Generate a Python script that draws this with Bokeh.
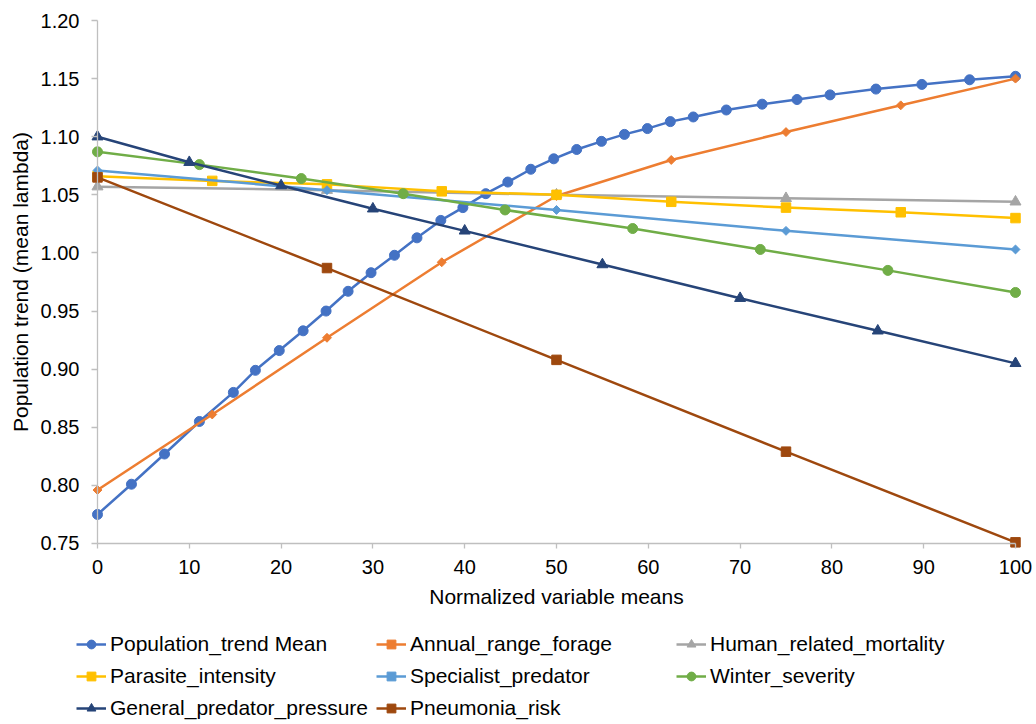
from bokeh.plotting import figure
from bokeh.models import Range1d, FixedTicker, PrintfTickFormatter, Legend, LegendItem
from bokeh.embed import file_html
from bokeh.resources import INLINE
import math

# ---------------- data ----------------
pop_x = [0, 3.7, 7.3, 11.1, 14.8, 17.2, 19.8, 22.4, 24.9, 27.3, 29.8, 32.35, 34.8, 37.4, 39.8,
         42.3, 44.7, 47.2, 49.7, 52.2, 54.9, 57.4, 59.9, 62.4, 64.9, 68.5, 72.4, 76.2, 79.8,
         84.8, 89.8, 95.0, 100]
pop_y = [0.775, 0.801, 0.827, 0.855, 0.880, 0.899, 0.916, 0.933, 0.950, 0.967, 0.983, 0.998,
         1.013, 1.028, 1.039, 1.051, 1.061, 1.072, 1.081, 1.089, 1.096, 1.102, 1.107, 1.113,
         1.117, 1.123, 1.128, 1.132, 1.136, 1.141, 1.145, 1.149, 1.152]

forage_x = [0, 12.5, 25, 37.5, 50, 62.5, 75, 87.5, 100]
forage_y = [0.796, 0.861, 0.927, 0.992, 1.049, 1.080, 1.104, 1.127, 1.150]

human_x = [0, 25, 50, 75, 100]
human_y = [1.057, 1.054, 1.050, 1.047, 1.044]

parasite_x = [0, 12.5, 25, 37.5, 50, 62.5, 75, 87.5, 100]
parasite_y = [1.066, 1.062, 1.059, 1.053, 1.050, 1.044, 1.039, 1.035, 1.030]

special_x = [0, 25, 50, 75, 100]
special_y = [1.071, 1.054, 1.037, 1.019, 1.003]

winter_x = [0, 11.1, 22.2, 33.3, 44.4, 58.3, 72.2, 86.1, 100]
winter_y = [1.087, 1.076, 1.064, 1.051, 1.037, 1.021, 1.003, 0.985, 0.966]

general_x = [0, 10, 20, 30, 40, 55, 70, 85, 100]
general_y = [1.100, 1.078, 1.058, 1.038, 1.019, 0.990, 0.961, 0.933, 0.905]

pneu_x = [0, 25, 50, 75, 100]
pneu_y = [1.065, 0.987, 0.908, 0.829, 0.751]

x_ticks = [0, 10, 20, 30, 40, 50, 60, 70, 80, 90, 100]
y_ticks = [0.75, 0.80, 0.85, 0.90, 0.95, 1.00, 1.05, 1.10, 1.15, 1.20]

series = [
    ("Population_trend Mean", pop_x, pop_y, "#4472C4", "circle", 10, 0),
    ("Annual_range_forage", forage_x, forage_y, "#ED7D31", "square", 6.3, math.pi / 4),
    ("Human_related_mortality", human_x, human_y, "#A5A5A5", "triangle", 11, 0),
    ("Parasite_intensity", parasite_x, parasite_y, "#FFC000", "square", 9.5, 0),
    ("Specialist_predator", special_x, special_y, "#5B9BD5", "square", 6.3, math.pi / 4),
    ("Winter_severity", winter_x, winter_y, "#70AD47", "circle", 10, 0),
    ("General_predator_pressure", general_x, general_y, "#264478", "triangle", 11, 0),
    ("Pneumonia_risk", pneu_x, pneu_y, "#9E480E", "square", 9.5, 0),
]

FONT = "Liberation Sans"
AXIS_COLOR = "#BFBFBF"

# The frame fills the whole canvas (it also holds the axes' labels and the legend);
# the axes are pinned to x=0 / y=0.75 and bounded to the data box.
p = figure(width=1036, height=724, output_backend="svg", toolbar_location=None,
           x_range=Range1d(-10.566, 102.288), y_range=Range1d(0.594261, 1.217209),
           min_border_left=0, min_border_right=0, min_border_top=0, min_border_bottom=0)
p.outline_line_color = None
p.xgrid.visible = False
p.ygrid.visible = False
p.background_fill_color = "white"
p.border_fill_color = "white"

for ax in (p.xaxis[0], p.yaxis[0]):
    ax.axis_line_color = AXIS_COLOR
    ax.axis_line_width = 1.3
    ax.major_tick_line_color = AXIS_COLOR
    ax.major_tick_line_width = 1.3
    ax.minor_tick_line_color = None
    ax.major_tick_in = 0
    ax.major_label_text_font = FONT
    ax.major_label_text_font_size = "20px"
    ax.major_label_text_color = "black"
    ax.axis_label_text_font = FONT
    ax.axis_label_text_font_size = "21px"
    ax.axis_label_text_font_style = "normal"
    ax.axis_label_text_color = "black"

p.xaxis.ticker = FixedTicker(ticks=x_ticks)
p.yaxis.ticker = FixedTicker(ticks=y_ticks)
p.yaxis.formatter = PrintfTickFormatter(format="%.2f")
p.xaxis.fixed_location = 0.75
p.yaxis.fixed_location = 0
p.xaxis.bounds = (0, 100)
p.yaxis.bounds = (0.75, 1.20)
p.xaxis.major_tick_out = 5
p.yaxis.major_tick_out = 6
p.xaxis.major_label_standoff = 12
p.yaxis.major_label_standoff = 12
p.xaxis.axis_label = "Normalized variable means"
p.yaxis.axis_label = "Population trend (mean lambda)"
p.xaxis.axis_label_standoff = 7
p.yaxis.axis_label_standoff = 6

items = []
for name, xs, ys, color, marker, size, ang in series:
    lr = p.line(xs, ys, line_color=color, line_width=2.5)
    sr = p.scatter(xs, ys, marker=marker, size=size, angle=ang,
                   fill_color=color, line_color=color, line_width=1)
    items.append(LegendItem(label=name, renderers=[lr, sr]))

legend = Legend(items=items, location=(76, 0), orientation="horizontal", ncols=3,
                glyph_width=30, glyph_height=22, label_standoff=4, label_width=266,
                label_height=32, spacing=0, padding=0, margin=0,
                label_text_font=FONT, label_text_font_size="21px", label_text_color="black",
                background_fill_alpha=0, border_line_alpha=0)
p.add_layout(legend, "center")

open("out.html", "w").write(file_html(p, INLINE))
